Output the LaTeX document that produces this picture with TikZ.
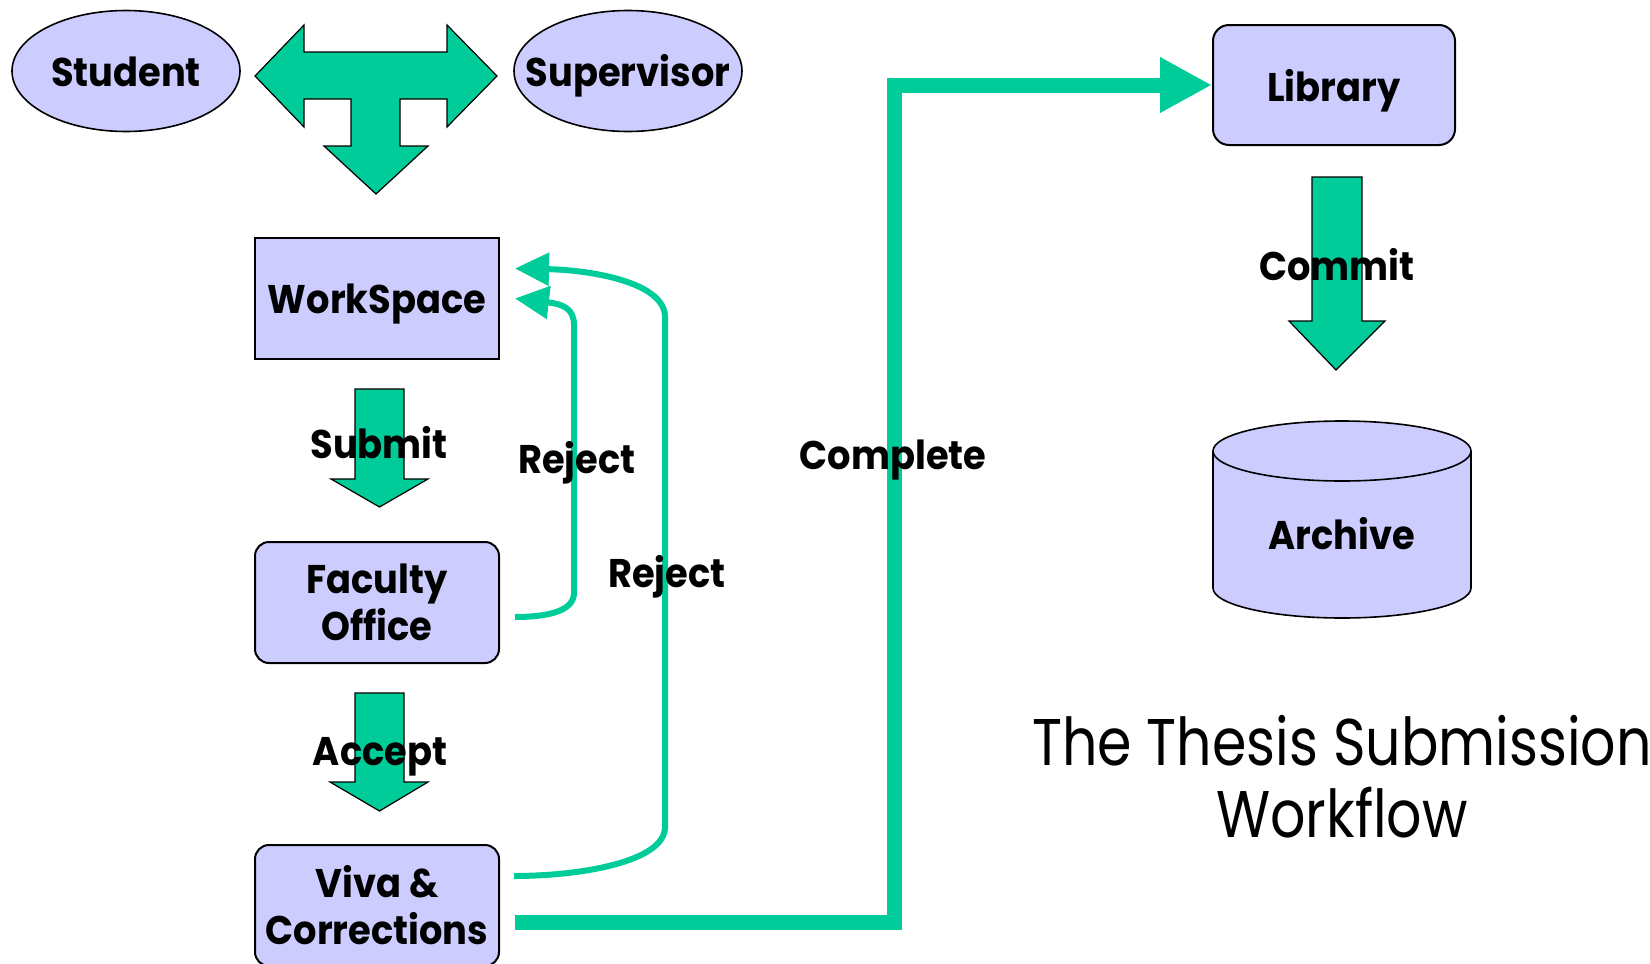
\documentclass[tikz,border=0pt]{standalone}
\usepackage{fontspec}
\setmainfont{Poppins}
\newfontfamily\lblfont{Poppins}[FakeStretch=0.92]
\newfontfamily\titlefont{Poppins}[FakeStretch=0.84]
\usetikzlibrary{shapes.geometric,arrows.meta}

\definecolor{lav}{RGB}{204,204,255}
\definecolor{sea}{RGB}{0,204,153}

\tikzset{
  stage/.style={draw, fill=lav, line width=1pt, minimum width=122pt, minimum height=60.5pt,
    inner sep=0pt, align=center, font=\lblfont\bfseries\fontsize{20}{23.5}\selectfont},
  roundstage/.style={stage, rounded corners=7pt},
  actor/.style={draw, ellipse, fill=lav, line width=0.8pt, minimum width=114pt,
    minimum height=60.5pt, inner sep=0pt},
  lbl/.style={font=\lblfont\bfseries\fontsize{20}{24}\selectfont, anchor=base, inner sep=0pt},
  block/.style={draw, fill=sea, line width=0.6pt, line join=miter},
  vault/.style={draw, fill=lav, line width=0.8pt},
  reject/.style={draw=sea, line width=3pt, -{Triangle[length=17pt,width=16pt]}},
  complete/.style={draw=sea, line width=7.5pt, line join=miter, -{Triangle[length=26pt,width=26pt]}}
}

\begin{document}
\begin{tikzpicture}[x=0.5pt, y=-0.5pt]
\useasboundingbox (0,0) rectangle (1650,964);

% people
\node[actor] (student) at (126,71) {};
\node[actor] (supervisor) at (628,71) {};
\node[lbl] at (126,86) {Student};
\node[lbl] at (628,86) {Supervisor};

% two way + down block arrow
\draw[block] (255,76) -- (304,25) -- (304,52) -- (447,52) -- (447,25) -- (497,76)
  -- (447,127) -- (447,99) -- (400,99) -- (400,146) -- (428,146) -- (376,194)
  -- (324,146) -- (351,146) -- (351,99) -- (304,99) -- (304,127) -- cycle;

% left column
\node[stage, text depth=0pt] (workspace) at (377,298.5) {WorkSpace};
\node[roundstage] (faculty) at (377,602.5) {Faculty\\Office};
\node[roundstage] (viva) at (377,905.5) {Viva \&\\Corrections};

\draw[block] (355,389) -- (404,389) -- (404,479) -- (428,479) -- (379.5,507)
  -- (331,479) -- (355,479) -- cycle;
\node[lbl] (submit) at (379,458) {Submit};
\draw[block] (355,693) -- (404,693) -- (404,782) -- (428,782) -- (379.5,811)
  -- (330,782) -- (355,782) -- cycle;
\node[lbl] (accept) at (380,765) {Accept};

% right column
\node[roundstage, rounded corners=8pt, minimum width=121pt, minimum height=60pt, text depth=0pt] (library) at (1334,85) {Library};
\draw[block] (1312,177) -- (1362,177) -- (1362,321) -- (1385,321) -- (1336,370)
  -- (1289,321) -- (1312,321) -- cycle;
\node[lbl] (commit) at (1337,280) {Commit};

\draw[vault] (1213,451) -- (1213,588) arc[start angle=180, end angle=0, x radius=129, y radius=30] -- (1471,451);
\draw[vault] (1342,451) ellipse[x radius=129, y radius=30];
\node[lbl] (archive) at (1342,549) {Archive};

% rejects
\draw[reject] ([xshift=7.5pt,yshift=-7.25pt]faculty.east) .. controls (545,617) and (574,612) .. (574,593)
  -- (574,325) .. controls (574,308) and (562,304) .. ([xshift=7.5pt]workspace.east);
\draw[reject] ([xshift=7pt,yshift=14.75pt]viva.east) .. controls (580,876) and (665,862) .. (665,827)
  -- (665,317) .. controls (665,282) and (590,270) .. ([xshift=7.5pt,yshift=15pt]workspace.east);
\node[lbl] (reject1) at (577,473) {Reject};
\node[lbl] (reject2) at (667,587) {Reject};

% complete
\draw[complete] ([xshift=7.5pt,yshift=-8.25pt]viva.east) -| (894,85) -- (library.west);
\node[lbl] (complete) at (893,469) {Complete};

% title
\node[font=\titlefont\fontsize{33}{36}\selectfont, align=center, anchor=base] (title) at (1342,837)
  {The Thesis Submission\\Workflow};
\end{tikzpicture}
\end{document}
